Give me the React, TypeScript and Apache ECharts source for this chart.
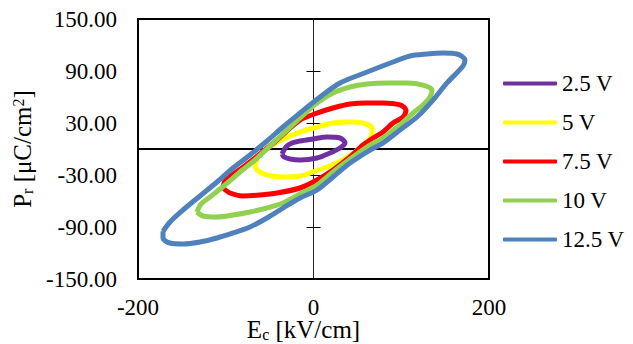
import React, { useEffect, useRef } from "react";
import * as echarts from "echarts";

const FONT = "'Liberation Serif', 'Times New Roman', serif";

const seriesNames = ["2.5 V", "5 V", "7.5 V", "10 V", "12.5 V"];
const seriesColors = ["#7030A0", "#FFFF00", "#FF0000", "#92D050", "#4F81BD"];

const xTicks = { min: -200, max: 200, interval: 200 };
const yTicks = { min: -150, max: 150, interval: 60 };

const loop2_5: number[][] = [
  [-35.9, -5.8], [-31.3, 2.3], [-24.5, 6.9], [-15.4, 9.2], [-0.6, 11.5], [15.4, 13.8], [30.2, 12.7],
  [35.9, 6.9], [30.2, 1.2], [18.8, -4.6], [4, -10.4], [-15.4, -12.7], [-26.8, -11.5], [-33.6, -9.2], [-35.9, -5.8],
];

const loop5: number[][] = [
  [-66.6, -18.5], [-63.2, -9.2], [-55.3, -1.2], [-41.6, 8.1], [-26.8, 15], [-15.4, 19.6], [4, 25.4],
  [22.2, 30], [41.6, 31.2], [56.4, 30], [66.7, 24.2], [66.7, 16.2], [58.7, 6.9], [47.3, -3.5], [33.6, -12.7],
  [15.4, -20.8], [-4, -27.7], [-15.4, -31.2], [-34.8, -32.3], [-53, -30], [-64.4, -24.2], [-66.6, -18.5],
];

const loop7_5: number[][] = [
  [-103, -45], [-100.9, -36.9], [-92.9, -30], [-81.5, -21.9], [-61, -5.8], [-41.6, 10.4], [-26.8, 24.2],
  [-15.4, 33.5], [4, 41.5], [22.2, 47.3], [41.6, 51.9], [61, 53.1], [79.2, 53.1], [98.6, 50.8], [105.4, 45],
  [102, 36.9], [90.6, 30], [79.2, 19.6], [67.8, 12.7], [56.4, 4.6], [41.6, -9.2], [22.2, -24.2], [4, -35.8],
  [-15.4, -45], [-41.6, -50.8], [-61, -53.1], [-80.3, -54.2], [-95.2, -50.8], [-103, -45],
];

const loop10: number[][] = [
  [-132.9, -72.7], [-128.2, -63.5], [-118, -55.4], [-100.9, -41.5], [-83.8, -26.5], [-66.7, -12.7],
  [-49.6, 3.5], [-32.5, 19.6], [-15.4, 35.8], [4, 53.1], [22.2, 64.6], [41.6, 71.5], [61, 75], [83.8, 76.2],
  [106.5, 76.2], [124.8, 73.8], [135, 68.1], [132.8, 60], [124.8, 50.8], [113.4, 41.5], [98.6, 27.7],
  [79.2, 12.7], [61, 2.3], [41.6, -11.5], [22.2, -26.5], [4, -41.5], [-15.4, -52], [-34.8, -62.3],
  [-53, -68.1], [-72.4, -72.7], [-91.7, -76.2], [-110, -78.5], [-126, -77.3], [-132.9, -72.7],
];

const loop12_5: number[][] = [
  [-171.5, -95], [-163.5, -84.2], [-148.7, -70.4], [-129.3, -54.2], [-110, -38.1], [-91.7, -21.9],
  [-72.4, -6.9], [-53, 9.2], [-34.8, 25.4], [-15.4, 41.5], [7.4, 60], [30.2, 76.2], [61, 88.8],
  [90.6, 100.4], [110, 107.3], [129.3, 109.6], [147.6, 110.8], [163.5, 109.6], [172.6, 102.7],
  [170.4, 95.8], [152.1, 76.2], [136.2, 56.5], [117.9, 36.9], [98.6, 21.9], [79.2, 6.9], [64.4, -1.2],
  [41.6, -16.2], [22.2, -32.3], [4, -47.3], [-15.4, -56.5], [-34.8, -68.1], [-53, -79.6], [-72.4, -90],
  [-91.7, -96.9], [-110, -102.7], [-129.3, -107.3], [-148.7, -109.6], [-163.5, -108.5],
  [-171.5, -102.7], [-171.5, -95],
];

const loops = [loop2_5, loop5, loop7_5, loop10, loop12_5];

export default function App() {
  const ref = useRef<HTMLDivElement>(null);
  useEffect(() => {
    if (!ref.current) return;
    const chart = echarts.init(ref.current, undefined, { renderer: "svg" });
    const zeroAxisBase = {
      type: "value" as const,
      min: yTicks.min,
      max: yTicks.max,
      interval: yTicks.interval,
      axisLabel: { show: false },
      splitLine: { show: false },
    };
    chart.setOption({
      animation: false,
      backgroundColor: "#fff",
      textStyle: { fontFamily: FONT },
      grid: {
        left: 138,
        right: 144,
        top: 19,
        bottom: 65,
        show: true,
        borderColor: "#000",
        borderWidth: 2,
        containLabel: false,
        outerBoundsMode: "none",
      },
      legend: {
        orient: "vertical",
        left: 498,
        top: 67,
        itemWidth: 54,
        itemHeight: 4,
        itemGap: 16,
        icon: "roundRect",
        textStyle: { fontFamily: FONT, fontSize: 23, color: "#000", lineHeight: 23 },
        data: seriesNames,
      },
      xAxis: [
        {
          type: "value",
          min: xTicks.min,
          max: xTicks.max,
          interval: xTicks.interval,
          position: "bottom",
          axisLine: { show: true, onZero: false, lineStyle: { color: "#000", width: 2 } },
          axisTick: { show: false },
          splitLine: { show: false },
          axisLabel: { fontFamily: FONT, fontSize: 23, color: "#000", margin: 18, lineHeight: 20 },
          name: "{i|E}{s|c}{i| [kV/cm]}",
          nameLocation: "middle",
          nameGap: 38,
          nameMoveOverlap: false,
          nameTextStyle: {
            padding: [0, 20, 0, 0],
            rich: {
              i: { fontFamily: FONT, fontSize: 25, color: "#000" },
              s: { fontFamily: FONT, fontSize: 16, color: "#000", verticalAlign: "bottom" },
            },
          },
        },
        {
          type: "value",
          min: xTicks.min,
          max: xTicks.max,
          interval: xTicks.interval,
          axisLine: { show: true, onZero: true, onZeroAxisIndex: 0, lineStyle: { color: "#000", width: 2 } },
          axisTick: { show: false },
          axisLabel: { show: false },
          splitLine: { show: false },
        },
      ],
      yAxis: [
        {
          type: "value",
          min: yTicks.min,
          max: yTicks.max,
          interval: yTicks.interval,
          position: "left",
          axisLine: { show: true, onZero: false, lineStyle: { color: "#000", width: 2 } },
          axisTick: { show: false },
          splitLine: { show: false },
          axisLabel: {
            fontFamily: FONT,
            fontSize: 23,
            color: "#000",
            margin: 21,
            formatter: (v: number) => v.toFixed(2),
          },
          name: "{i|P}{s|r}{i| [μC/cm}{p|2}{i|]}",
          nameLocation: "middle",
          nameRotate: 90,
          nameGap: 96,
          nameTextStyle: {
            rich: {
              i: { fontFamily: FONT, fontSize: 25, color: "#000" },
              s: { fontFamily: FONT, fontSize: 16, color: "#000", verticalAlign: "bottom" },
              p: { fontFamily: FONT, fontSize: 16, color: "#000", verticalAlign: "top" },
            },
          },
        },
        {
          ...zeroAxisBase,
          axisLine: { show: true, onZero: true, onZeroAxisIndex: 0, lineStyle: { color: "#222", width: 1 } },
          axisTick: { show: true, inside: false, length: 7, lineStyle: { color: "#000", width: 1 } },
        },
        {
          ...zeroAxisBase,
          axisLine: { show: true, onZero: true, onZeroAxisIndex: 0, lineStyle: { color: "#222", width: 1 } },
          axisTick: { show: true, inside: true, length: 7, lineStyle: { color: "#000", width: 1 } },
        },
      ],
      series: loops.map((d, i) => ({
        name: seriesNames[i],
        type: "line",
        xAxisIndex: 0,
        yAxisIndex: 0,
        data: d,
        smooth: 0.3,
        showSymbol: false,
        symbol: "none",
        lineStyle: { color: seriesColors[i], width: 5 },
        itemStyle: { color: seriesColors[i] },
      })),
    });
    return () => chart.dispose();
  }, []);
  return (
    <div
      ref={ref}
      style={{ width: 633, height: 344, position: "fixed", left: 0, top: 0, background: "#fff" }}
    />
  );
}
